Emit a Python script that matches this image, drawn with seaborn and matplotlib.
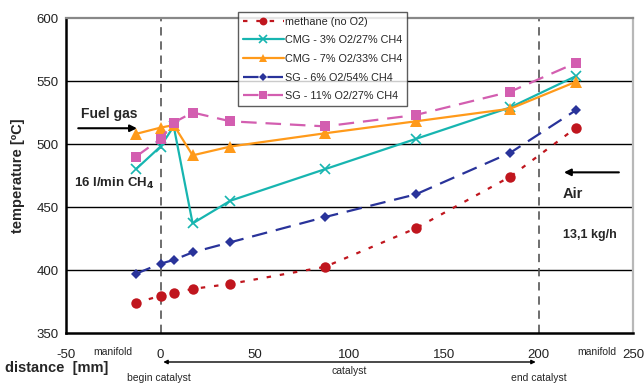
import matplotlib
matplotlib.use("Agg")
import matplotlib.pyplot as plt
import matplotlib.transforms as mtransforms
from matplotlib.lines import Line2D
import seaborn as sns
import pandas as pd

sns.set_theme(style="white")
plt.rcParams['font.family'] = ['Liberation Sans', 'DejaVu Sans']

# ---- data ----
distance = [-13, 0, 7, 17, 37, 87, 135, 185, 220]
methane = [374, 379.5, 381.5, 385, 389, 402.5, 433, 474, 513]
cmg3 = [480, 498, 514, 437, 455, 480, 504, 529, 554]
cmg7 = [508, 513, 515, 491, 498, 508.5, 518, 528, 549.5]
sg6 = [397, 405, 408, 414, 422, 442, 460, 493, 527]
sg11 = [490, 504, 517, 525, 518, 514, 523, 541.5, 564.5]
series_names = ["methane (no O2)", "CMG - 3% O2/27% CH4", "CMG - 7% O2/33% CH4",
                "SG - 6% O2/54% CH4", "SG - 11% O2/27% CH4"]
x_ticks = [-50, 0, 50, 100, 150, 200, 250]
y_ticks = [350, 400, 450, 500, 550, 600]

styles = [
    dict(color="#C0161E", marker="o", ls=(0, (2, 4)), ms=7.5, mew=0),
    dict(color="#17B5B0", marker="x", ls="-", ms=7, mew=1.2),
    dict(color="#FF9A1A", marker="^", ls="-", ms=8, mew=0),
    dict(color="#29339A", marker="D", ls=(0, (7, 4)), ms=5.5, mew=0),
    dict(color="#D35EB0", marker="s", ls=(0, (7, 4)), ms=7, mew=0),
]

fig = plt.figure(figsize=(6.44, 3.84), dpi=100)
ax = fig.add_axes([66/644, 1-333/384, (633-66)/644, (333-18)/384])

values = [methane, cmg3, cmg7, sg6, sg11]
handles = []
for name, vals, st in zip(series_names, values, styles):
    df = pd.DataFrame({"distance": distance, "temperature": vals})
    sns.lineplot(data=df, x="distance", y="temperature", ax=ax, color=st["color"],
                 linestyle=st["ls"], marker=st["marker"], markersize=st["ms"],
                 markeredgewidth=st["mew"], markeredgecolor=st["color"],
                 linewidth=1.6, legend=False, zorder=3)
    handles.append(Line2D([], [], color=st["color"], linestyle=st["ls"], marker=st["marker"],
                          markersize=st["ms"]*0.75, markeredgewidth=st["mew"],
                          markeredgecolor=st["color"], linewidth=1.6, label=name))

ax.set_xlim(-50, 250)
ax.set_ylim(350, 600)
ax.set_xticks(x_ticks)
ax.set_yticks(y_ticks)
ax.set_xticklabels([str(v) for v in x_ticks], fontsize=9.5)
ax.set_yticklabels([str(v) for v in y_ticks], fontsize=9.5)
ax.tick_params(axis="both", direction="inout", length=7, width=1.3, color="black",
               labelcolor="#222222")
ax.tick_params(axis="x", pad=8)
ax.tick_params(axis="y", pad=2)

for yv in [400, 450, 500, 550]:
    ax.axhline(yv, color="black", lw=1.0, zorder=1)
for xv in [0, 200]:
    ax.axvline(xv, color="#555555", lw=1.2, ls=(0, (5, 3.5)), zorder=1)

ax.spines["left"].set_color("black")
ax.spines["left"].set_linewidth(1.8)
ax.spines["bottom"].set_color("black")
ax.spines["bottom"].set_linewidth(1.8)
ax.spines["top"].set_color("#888888")
ax.spines["top"].set_linewidth(1.6)
ax.spines["right"].set_color("#b8b8b8")
ax.spines["right"].set_linewidth(1.6)

ax.set_xlabel("")
ax.set_ylabel("temperature [ºC]", fontsize=10.5, fontweight="bold", labelpad=8)

leg = fig.legend(handles=handles, loc="upper left", bbox_to_anchor=(238/644, 1-12/384),
                 fontsize=7.8, frameon=True, fancybox=False, edgecolor="#333333",
                 handlelength=3.8, handletextpad=0.1, borderpad=0.42, labelspacing=0.8,
                 borderaxespad=0)
leg.get_frame().set_linewidth(1.0)
leg.set_zorder(5)

# annotations
ax.annotate("", xy=(-11, 512.5), xytext=(-45, 512.5),
            arrowprops=dict(arrowstyle="-|>", color="black", lw=1.5, mutation_scale=10))
ax.text(-42, 524, "Fuel gas", fontsize=10, fontweight="bold", va="center", ha="left")
ax.text(-46, 469, "16 l/min CH$_\\mathbf{4}$", fontsize=9.5, fontweight="bold",
        va="center", ha="left")
ax.annotate("", xy=(212, 477.5), xytext=(244, 477.5),
            arrowprops=dict(arrowstyle="-|>", color="black", lw=1.5, mutation_scale=10))
ax.text(213, 460, "Air", fontsize=10.5, fontweight="bold", va="center", ha="left")
ax.text(213, 428, "13,1 kg/h", fontsize=9, fontweight="bold", va="center", ha="left")

tr = mtransforms.blended_transform_factory(ax.transData, fig.transFigure)
ax.text(-25, 1-352/384, "manifold", fontsize=7.5, ha="center", va="center", transform=tr)
ax.text(231, 1-352/384, "manifold", fontsize=7.5, ha="center", va="center", transform=tr)
ax.annotate("", xy=(0, 1-362/384), xytext=(200, 1-362/384), xycoords=tr, textcoords=tr,
            arrowprops=dict(arrowstyle="<|-|>", color="black", lw=1.0, mutation_scale=6))
ax.text(-1, 1-378/384, "begin catalyst", fontsize=7.5, ha="center", va="center", transform=tr)
ax.text(100, 1-371/384, "catalyst", fontsize=7.5, ha="center", va="center", transform=tr)
ax.text(200, 1-378/384, "end catalyst", fontsize=7.5, ha="center", va="center", transform=tr)
fig.text(5/644, 1-368/384, "distance  [mm]", fontsize=10.5, fontweight="bold",
         ha="left", va="center")

fig.savefig("out.png", dpi=100)
